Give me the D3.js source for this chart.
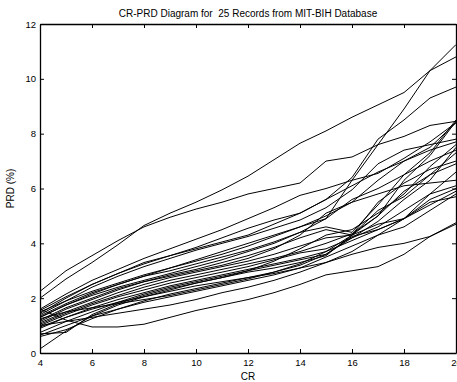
<!DOCTYPE html>
<html>
<head>
<meta charset="utf-8">
<script src="https://cdn.jsdelivr.net/npm/d3@7"></script>
<style>
  body { margin: 0; background: #fff; }
  svg { display: block; font-family: "Liberation Sans", Arial, sans-serif; }
  .tick text { font-size: 9.5px; fill: #000; }
</style>
</head>
<body>
<svg id="chart"></svg>
<script>
// compression ratio samples (x axis)
const crValues = [4, 5, 6, 7, 8, 9, 10, 11, 12, 13, 14, 15, 16, 17, 18, 19, 20];
const xTicks = [4, 6, 8, 10, 12, 14, 16, 18, 20];
const yTicks = [0, 2, 4, 6, 8, 10, 12];

// PRD (%) per record, one value per CR step
const prdRecords = [
  [2.0, 2.7, 3.3, 3.95, 4.65, 5.1, 5.5, 5.95, 6.45, 7.05, 7.65, 8.1, 8.6, 9.05, 9.5, 10.3, 11.25],
  [2.25, 3.0, 3.55, 4.1, 4.6, 4.95, 5.25, 5.5, 5.8, 6.0, 6.2, 7.0, 7.15, 7.6, 7.9, 8.3, 8.45],
  [1.3, 1.75, 2.1, 2.4, 2.65, 2.9, 3.15, 3.4, 3.7, 4.0, 4.4, 4.9, 6.3, 7.6, 8.9, 10.3, 10.8],
  [1.55, 2.05, 2.5, 2.9, 3.3, 3.55, 3.8, 4.05, 4.3, 4.7, 5.1, 5.6, 6.4, 7.8, 8.5, 9.3, 9.7],
  [1.6, 1.2, 0.95, 0.95, 1.05, 1.3, 1.55, 1.75, 1.95, 2.2, 2.5, 2.85, 3.0, 3.15, 3.6, 4.25, 4.7],
  [1.0, 1.15, 1.3, 1.45, 1.6, 1.75, 1.95, 2.2, 2.4, 2.65, 2.95, 3.3, 3.6, 3.85, 4.0, 4.25, 4.75],
  [1.6, 2.15, 2.65, 3.05, 3.45, 3.8, 4.15, 4.5, 4.9, 5.3, 5.75, 6.0, 6.3, 6.55, 7.1, 7.7, 8.4],
  [1.45, 2.0, 2.5, 2.9, 3.25, 3.55, 3.85, 4.2, 4.55, 4.85, 5.1, 5.6, 6.1, 6.6, 7.0, 7.4, 7.7],
  [1.4, 1.9, 2.4, 2.8, 3.15, 3.45, 3.75, 4.0, 4.25, 4.55, 4.85, 5.3, 5.95, 6.9, 7.4, 7.6, 7.8],
  [1.35, 1.8, 2.2, 2.5, 2.8, 3.0, 3.25, 3.5, 3.75, 4.05, 4.4, 4.6, 4.4, 5.4, 6.5, 7.3, 8.5],
  [1.2, 1.65, 2.0, 2.35, 2.6, 2.85, 3.05, 3.3, 3.55, 3.85, 4.2, 4.5, 4.3, 5.0, 6.3, 7.2, 8.45],
  [1.15, 1.6, 1.95, 2.3, 2.6, 2.8, 3.0, 3.2, 3.45, 3.8, 4.3, 5.1, 5.5, 5.8, 6.1, 6.2, 6.3],
  [1.1, 1.5, 1.85, 2.2, 2.5, 2.75, 2.95, 3.15, 3.35, 3.6, 3.9, 4.2, 4.3, 5.2, 5.7, 6.5, 7.3],
  [1.05, 1.45, 1.8, 2.1, 2.4, 2.65, 2.85, 3.05, 3.25, 3.45, 3.7, 4.0, 4.35, 5.0, 5.9, 6.5, 6.9],
  [1.0, 1.4, 1.75, 2.05, 2.3, 2.55, 2.75, 2.95, 3.15, 3.4, 3.65, 3.8, 4.2, 4.8, 5.6, 6.3, 7.5],
  [0.95, 1.3, 1.6, 1.85, 2.05, 2.25, 2.45, 2.6, 2.75, 2.95, 3.2, 3.6, 4.25, 4.5, 4.9, 5.6, 6.0],
  [0.9, 1.3, 1.65, 1.95, 2.2, 2.45, 2.65, 2.85, 3.05, 3.25, 3.45, 3.7, 4.3, 5.5, 6.2, 6.7, 7.0],
  [0.75, 1.15, 1.5, 1.85, 2.15, 2.4, 2.6, 2.8, 3.0, 3.2, 3.4, 3.6, 4.2, 4.6, 5.2, 5.8, 6.1],
  [0.7, 0.75, 1.4, 1.8, 2.1, 2.35, 2.55, 2.75, 2.95, 3.1, 3.3, 3.55, 4.3, 4.7, 4.9, 5.5, 5.7],
  [0.65, 1.0, 1.35, 1.6, 1.85, 2.05, 2.25, 2.45, 2.65, 2.85, 3.1, 3.5, 3.9, 4.3, 4.6, 5.2, 5.8],
  [0.6, 0.85, 1.25, 1.6, 1.9, 2.15, 2.35, 2.55, 2.75, 2.9, 3.1, 3.3, 3.7, 4.3, 4.9, 5.8, 6.6],
  [0.15, 0.8, 1.35, 1.75, 2.05, 2.3, 2.55, 2.75, 3.0, 3.35, 3.8, 4.3, 4.5, 5.1, 5.8, 6.8, 7.6],
  [1.3, 1.75, 2.15, 2.5, 2.8, 3.1, 3.4, 3.7, 4.0, 4.3, 4.6, 4.9, 5.6, 6.0, 6.5, 7.0, 7.4],
  [1.5, 1.9, 2.25, 2.55, 2.85, 3.1, 3.35, 3.6, 3.9, 4.25, 4.6, 5.0, 5.5, 6.3, 7.0, 7.5, 8.4],
  [1.25, 1.5, 1.65, 1.8, 1.95, 2.1, 2.3, 2.5, 2.7, 2.95, 3.25, 3.7, 4.1, 4.5, 4.9, 5.4, 5.9]
];

const svgWidth = 457;
const svgHeight = 382;
const margin = { top: 24, right: 1, bottom: 29, left: 40 };
const width = svgWidth - margin.left - margin.right;
const height = svgHeight - margin.top - margin.bottom;

const svg = d3.select('#chart')
  .attr('width', svgWidth)
  .attr('height', svgHeight);

const g = svg.append('g')
  .attr('transform', 'translate(' + margin.left + ',' + margin.top + ')');

const x = d3.scaleLinear().domain([4, 20]).range([0, width]);
const y = d3.scaleLinear().domain([0, 12]).range([height, 0]);

// data lines
const line = d3.line()
  .x((d, i) => x(crValues[i]))
  .y(d => y(d));

g.append('g')
  .selectAll('path')
  .data(prdRecords)
  .enter()
  .append('path')
  .attr('d', line)
  .attr('fill', 'none')
  .attr('stroke', '#000')
  .attr('stroke-width', 1);

// matlab-like box with inward ticks
const tickLen = 4;
g.append('g')
  .attr('class', 'axis')
  .attr('transform', 'translate(0,' + height + ')')
  .call(d3.axisBottom(x).tickValues(xTicks).tickSizeInner(-tickLen).tickSizeOuter(0).tickPadding(6));
g.append('g')
  .attr('class', 'axis')
  .call(d3.axisLeft(y).tickValues(yTicks).tickSizeInner(-tickLen).tickSizeOuter(0).tickPadding(4));
g.append('g')
  .attr('class', 'axis')
  .call(d3.axisTop(x).tickValues(xTicks).tickSizeInner(-tickLen).tickSizeOuter(0).tickFormat(''));
g.append('g')
  .attr('class', 'axis')
  .attr('transform', 'translate(' + width + ',0)')
  .call(d3.axisRight(y).tickValues(yTicks).tickSizeInner(-tickLen).tickSizeOuter(0).tickFormat(''));

g.selectAll('.axis .domain').attr('stroke', '#000').attr('stroke-width', 1.3);
g.selectAll('.axis .tick line').attr('stroke', '#000');

// title and axis labels
svg.append('text')
  .attr('x', margin.left + width / 2)
  .attr('y', 17)
  .attr('text-anchor', 'middle')
  .style('font-size', '10px')
  .style('white-space', 'pre')
  .text('CR-PRD Diagram for  25 Records from MIT-BIH Database');

svg.append('text')
  .attr('x', margin.left + width / 2)
  .attr('y', 380)
  .attr('text-anchor', 'middle')
  .style('font-size', '10px')
  .text('CR');

svg.append('text')
  .attr('transform', 'translate(14,' + (margin.top + height / 2) + ') rotate(-90)')
  .attr('text-anchor', 'middle')
  .style('font-size', '10px')
  .text('PRD (%)');
</script>
</body>
</html>
